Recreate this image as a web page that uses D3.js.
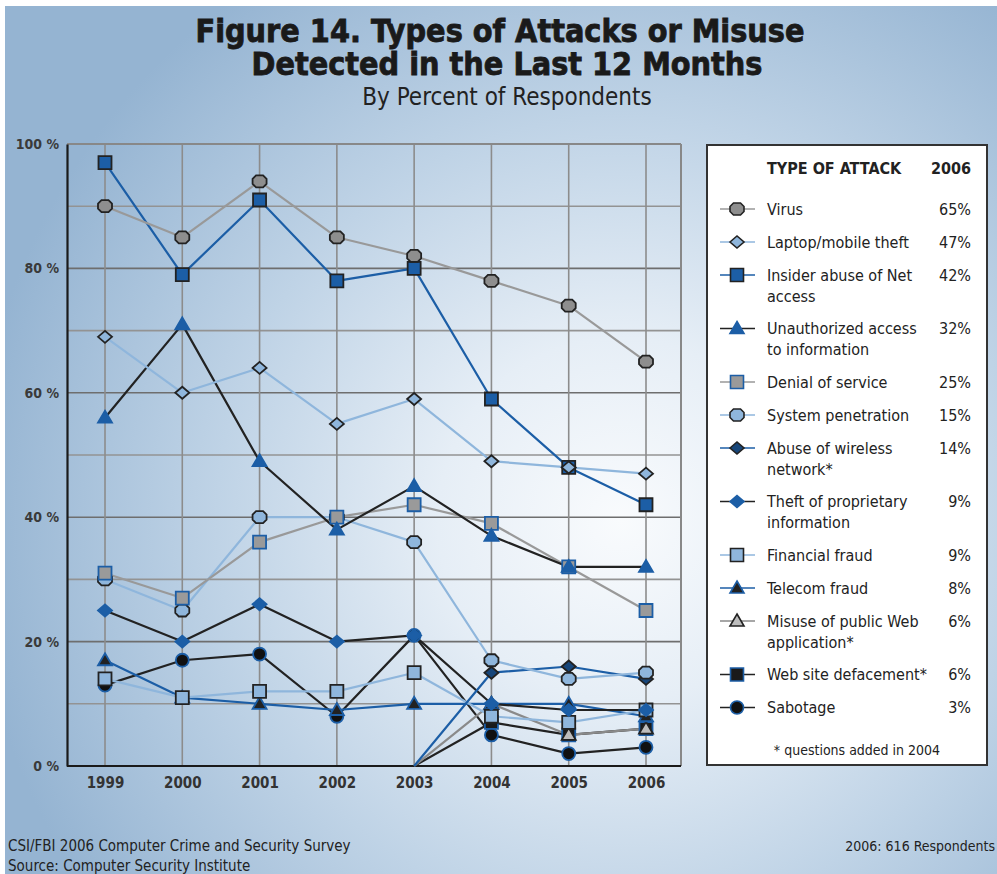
<!DOCTYPE html>
<html>
<head>
<meta charset="utf-8">
<script src="https://cdn.jsdelivr.net/npm/d3@7"></script>
<style>
  html, body { margin: 0; padding: 0; background: #fff; }
  svg { display: block; }
</style>
</head>
<body>
<svg id="chart" width="997" height="874"></svg>
<script>
// ---------------- data ----------------
const years = [1999, 2000, 2001, 2002, 2003, 2004, 2005, 2006];
const yTicks = [0, 20, 40, 60, 80, 100];
const addedIn = 2004;

const seriesNames = [
    ["Virus"],
    ["Laptop/mobile theft"],
    ["Insider abuse of Net", "access"],
    ["Unauthorized access", "to information"],
    ["Denial of service"],
    ["System penetration"],
    ["Abuse of wireless", "network*"],
    ["Theft of proprietary", "information"],
    ["Financial fraud"],
    ["Telecom fraud"],
    ["Misuse of public Web", "application*"],
    ["Web site defacement*"],
    ["Sabotage"]
];

const virus        = [90, 85, 94, 85, 82, 78, 74, 65];
const laptop       = [69, 60, 64, 55, 59, 49, 48, 47];
const insider      = [97, 79, 91, 78, 80, 59, 48, 42];
const unauthorized = [56, 71, 49, 38, 45, 37, 32, 32];
const denial       = [31, 27, 36, 40, 42, 39, 32, 25];
const penetration  = [30, 25, 40, 40, 36, 17, 14, 15];
const wireless     = [null, null, null, null, 0, 15, 16, 14];
const theft        = [25, 20, 26, 20, 21, 10, 9, 9];
const financial    = [14, 11, 12, 12, 15, 8, 7, 9];
const telecom      = [17, 11, 10, 9, 10, 10, 10, 8];
const misuse       = [null, null, null, null, 0, 10, 5, 6];
const defacement   = [null, null, null, null, 0, 7, 5, 6];
const sabotage     = [13, 17, 18, 8, 21, 5, 2, 3];

const seriesValues = [virus, laptop, insider, unauthorized, denial, penetration,
    wireless, theft, financial, telecom, misuse, defacement, sabotage];

// ---------------- styles ----------------
const DARK = "#222", GRAY = "#999", LIGHT = "#8fb6dc", BLUE = "#1c5ea6", NAVY = "#17467a";
const styles = [
    { line: GRAY,  shape: "octagon",  fill: "#8e8e8e", stroke: DARK },
    { line: LIGHT, shape: "diamond",  fill: LIGHT,     stroke: DARK },
    { line: BLUE,  shape: "square",   fill: BLUE,      stroke: DARK },
    { line: DARK,  shape: "triangle", fill: BLUE,      stroke: BLUE },
    { line: GRAY,  shape: "square",   fill: "#9a9a9a", stroke: BLUE },
    { line: LIGHT, shape: "octagon",  fill: LIGHT,     stroke: DARK },
    { line: BLUE,  shape: "diamond",  fill: NAVY,      stroke: DARK },
    { line: DARK,  shape: "diamond",  fill: BLUE,      stroke: BLUE },
    { line: LIGHT, shape: "square",   fill: LIGHT,     stroke: DARK },
    { line: BLUE,  shape: "triangle", fill: DARK,      stroke: BLUE },
    { line: "#8a8a8a", shape: "triangle", fill: "#bdbdbd", stroke: DARK },
    { line: DARK,  shape: "square",   fill: "#1a1a1a", stroke: BLUE },
    { line: DARK,  shape: "circle",   fill: "#111",    stroke: BLUE }
];

const FONT = "'Liberation Sans Narrow','DejaVu Sans Condensed',sans-serif";

function markerPath(shape) {
    switch (shape) {
        case "square":   return "M-6.5,-6.5H6.5V6.5H-6.5Z";
        case "diamond":  return "M-7,0L0,-6L7,0L0,6Z";
        case "triangle": return "M0,-7L7,5H-7Z";
        case "octagon":  return "M-3.5,-6H3.5L7,-2.5V2.5L3.5,6H-3.5L-7,2.5V-2.5Z";
        default:         return "M-6.5,0A6.5,6.5 0 1,0 6.5,0A6.5,6.5 0 1,0 -6.5,0Z";
    }
}

// ---------------- svg ----------------
const svg = d3.select("#chart");

const defs = svg.append("defs");
const bg = defs.append("radialGradient")
    .attr("id", "bg").attr("gradientUnits", "userSpaceOnUse")
    .attr("cx", 620).attr("cy", 520).attr("r", 650);
bg.append("stop").attr("offset", "0%").attr("stop-color", "#f9fbfd");
bg.append("stop").attr("offset", "28%").attr("stop-color", "#e6eef6");
bg.append("stop").attr("offset", "62%").attr("stop-color", "#bfd3e6");
bg.append("stop").attr("offset", "100%").attr("stop-color", "#95b4d2");

svg.append("rect").attr("x", 5).attr("y", 6).attr("width", 992).attr("height", 868)
    .attr("fill", "url(#bg)");

// title
const title = svg.append("text").attr("font-family", FONT).attr("fill", "#1a1a1a")
    .attr("text-anchor", "middle").attr("font-size", 32).attr("font-weight", "bold")
    .attr("stroke", "#1a1a1a").attr("stroke-width", 0.8);
title.append("tspan").attr("x", 500).attr("y", 42).text("Figure 14. Types of Attacks or Misuse");
title.append("tspan").attr("x", 507).attr("y", 75).text("Detected in the Last 12 Months");
svg.append("text").attr("font-family", FONT).attr("text-anchor", "middle")
    .attr("x", 507).attr("y", 105).attr("font-size", 24).attr("fill", "#222")
    .text("By Percent of Respondents");

// scales
const pLeft = 67, pRight = 681, pTop = 144, pBottom = 766;
const x = d3.scalePoint().domain(years).range([105, 646]);
const y = d3.scaleLinear().domain([0, 100]).range([pBottom, pTop]);

// grid
const grid = svg.append("g");
grid.selectAll(".hg").data(d3.range(10, 100, 10)).join("line")
    .attr("x1", pLeft).attr("x2", pRight)
    .attr("y1", d => y(d)).attr("y2", d => y(d))
    .attr("stroke", d => d % 20 === 0 ? "#6e6e6e" : "#939393")
    .attr("stroke-width", 1.6);
grid.selectAll(".vg").data(years).join("line")
    .attr("x1", d => x(d)).attr("x2", d => x(d))
    .attr("y1", pTop).attr("y2", pBottom)
    .attr("stroke", "#8c8c8c").attr("stroke-width", 1.6);
grid.append("line").attr("x1", pLeft).attr("x2", pRight).attr("y1", pTop).attr("y2", pTop)
    .attr("stroke", "#888").attr("stroke-width", 2);
grid.append("line").attr("x1", pRight).attr("x2", pRight).attr("y1", pTop).attr("y2", pBottom)
    .attr("stroke", "#888").attr("stroke-width", 2);

// axes
const yAxis = svg.append("g").attr("transform", `translate(${pLeft},0)`)
    .call(d3.axisLeft(y).tickValues(yTicks).tickSize(0).tickPadding(8).tickFormat(d => d + " %"));
yAxis.select(".domain").attr("stroke", "#1a1a1a").attr("stroke-width", 2.2);
yAxis.selectAll("text").attr("font-family", FONT).attr("font-size", 14)
    .attr("fill", "#3a3a3a").attr("font-weight", "bold");

const xAxis = svg.append("g").attr("transform", `translate(0,${pBottom})`)
    .call(d3.axisBottom(x).tickSize(0).tickPadding(11));
xAxis.select(".domain").attr("d", `M${pLeft},0H${pRight}`)
    .attr("stroke", "#1a1a1a").attr("stroke-width", 2.2);
xAxis.selectAll("text").attr("font-family", FONT).attr("font-size", 15)
    .attr("fill", "#333").attr("font-weight", "bold");

// lines and markers
const line = d3.line()
    .defined(d => d.v !== null)
    .x(d => x(d.year)).y(d => y(d.v));

const series = seriesValues.map((vals, i) => ({
    name: seriesNames[i],
    starred: seriesNames[i].join(" ").includes("*"),
    style: styles[i],
    points: vals.map((v, j) => ({ year: years[j], v: v }))
}));

const plot = svg.append("g");
series.slice().reverse().forEach(s => {
    plot.append("path").datum(s.points)
        .attr("d", line).attr("fill", "none")
        .attr("stroke", s.style.line).attr("stroke-width", 2.2)
        .attr("stroke-linejoin", "round");
});
series.slice().reverse().forEach(s => {
    const pts = s.points.filter(p => p.v !== null && (!s.starred || p.year >= addedIn));
    plot.selectAll(null).data(pts).join("path")
        .attr("transform", p => `translate(${x(p.year)},${y(p.v)})`)
        .attr("d", markerPath(s.style.shape))
        .attr("fill", s.style.fill).attr("stroke", s.style.stroke)
        .attr("stroke-width", 1.8);
});

// legend
const lg = svg.append("g").attr("font-family", FONT);
lg.append("rect").attr("x", 707).attr("y", 145).attr("width", 280).attr("height", 620)
    .attr("fill", "#fff").attr("stroke", "#333").attr("stroke-width", 2);
lg.append("text").attr("x", 767).attr("y", 174).attr("font-size", 16)
    .attr("font-weight", "bold").attr("fill", "#222").text("TYPE OF ATTACK");
lg.append("text").attr("x", 971).attr("y", 174).attr("font-size", 16)
    .attr("font-weight", "bold").attr("fill", "#222").attr("text-anchor", "end")
    .text(years[years.length - 1]);

let ly = 209;
series.forEach(s => {
    const row = lg.append("g").attr("transform", `translate(0,${ly})`);
    row.append("line").attr("x1", 720).attr("x2", 755).attr("y1", 0).attr("y2", 0)
        .attr("stroke", s.style.line).attr("stroke-width", 1.6);
    row.append("path").attr("transform", "translate(737,0)")
        .attr("d", markerPath(s.style.shape))
        .attr("fill", s.style.fill).attr("stroke", s.style.stroke).attr("stroke-width", 1.6);
    s.name.forEach((t, k) => {
        row.append("text").attr("x", 767).attr("y", 5.5 + k * 21)
            .attr("font-size", 16).attr("fill", "#222").text(t);
    });
    const last = s.points[s.points.length - 1].v;
    row.append("text").attr("x", 971).attr("y", 5.5).attr("text-anchor", "end")
        .attr("font-size", 16).attr("fill", "#222").text(last + "%");
    ly += 33 + 20.5 * (s.name.length - 1);
});
lg.append("text").attr("x", 857).attr("y", 755).attr("text-anchor", "middle")
    .attr("font-size", 14).attr("fill", "#222").text("* questions added in 2004");

// footer
const ft = svg.append("g").attr("font-family", FONT).attr("font-size", 15).attr("fill", "#222");
ft.append("text").attr("x", 8).attr("y", 851).text("CSI/FBI 2006 Computer Crime and Security Survey");
ft.append("text").attr("x", 8).attr("y", 871).text("Source: Computer Security Institute");
ft.append("text").attr("x", 995).attr("y", 851).attr("text-anchor", "end")
    .attr("font-size", 14).text("2006: 616 Respondents");
</script>
</body>
</html>
